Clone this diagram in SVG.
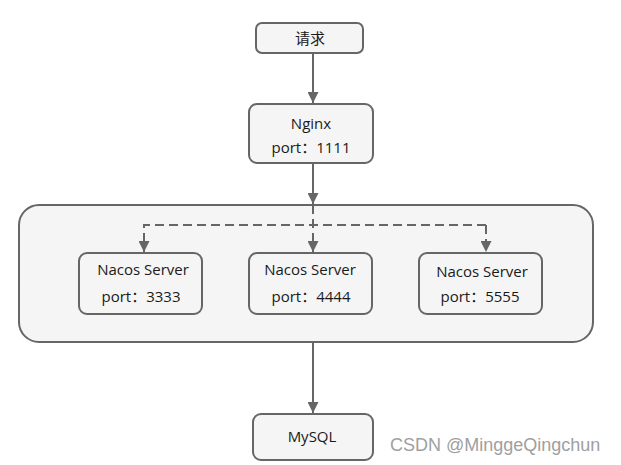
<svg xmlns="http://www.w3.org/2000/svg" width="621" height="465" viewBox="0 0 621 465">
<style>
.box{fill:#f5f5f5;stroke:#666;stroke-width:2}
.t{font-family:"Open Sans","Noto Sans CJK SC",sans-serif;font-size:15px;fill:#1a1a1a;text-anchor:middle}
.ln{stroke:#666;stroke-width:2;fill:none}
.dash{stroke-dasharray:9 5}
.wm{font-family:"Liberation Sans","Noto Sans CJK SC",sans-serif;font-size:18px;fill:#a0a0a0}
</style>
<defs>
<marker id="ah" viewBox="0 0 10 10" refX="10" refY="5" markerWidth="5.5" markerHeight="5.5" orient="auto" markerUnits="strokeWidth">
<path d="M0,0 L10,5 L0,10 z" fill="#666"/>
</marker>
</defs>
<rect width="621" height="465" fill="#fff"/>
<g id="cluster">
<rect class="box" x="19" y="205" width="574" height="137" rx="20"/>
</g>
<g id="connectors">
<line class="ln" x1="313" y1="53" x2="313" y2="103" marker-end="url(#ah)"/>
<line class="ln" x1="313" y1="163" x2="313" y2="204" marker-end="url(#ah)"/>
<path class="ln dash" d="M313,205 V252" marker-end="url(#ah)"/>
<path class="ln dash" d="M486,225 H144 V252" marker-end="url(#ah)"/>
<path class="ln dash" d="M486,225 V252" marker-end="url(#ah)"/>
<line class="ln" x1="313" y1="342" x2="313" y2="413" marker-end="url(#ah)"/>
</g>
<g id="request">
<rect class="box" x="256" y="23" width="107" height="30" rx="6"/>
<text class="t" x="310" y="44">请求</text>
</g>
<g id="nginx">
<rect class="box" x="249" y="104" width="124" height="59" rx="8"/>
<text class="t" x="311" y="129">Nginx</text>
<text class="t" x="311" y="153">port：1111</text>
</g>
<g id="nacos1">
<rect class="box" x="79" y="253" width="123" height="61" rx="8"/>
<text class="t" x="143" y="275">Nacos Server</text>
<text class="t" x="141" y="302">port：3333</text>
</g>
<g id="nacos2">
<rect class="box" x="249" y="253" width="123" height="61" rx="8"/>
<text class="t" x="310" y="275">Nacos Server</text>
<text class="t" x="311" y="302">port：4444</text>
</g>
<g id="nacos3">
<rect class="box" x="419" y="253" width="123" height="61" rx="8"/>
<text class="t" x="482" y="277">Nacos Server</text>
<text class="t" x="480" y="302">port：5555</text>
</g>
<g id="mysql">
<rect class="box" x="253" y="414" width="120" height="46" rx="8"/>
<text class="t" x="312" y="442">MySQL</text>
</g>
<text class="wm" x="390" y="451">CSDN @MinggeQingchun</text>
</svg>
